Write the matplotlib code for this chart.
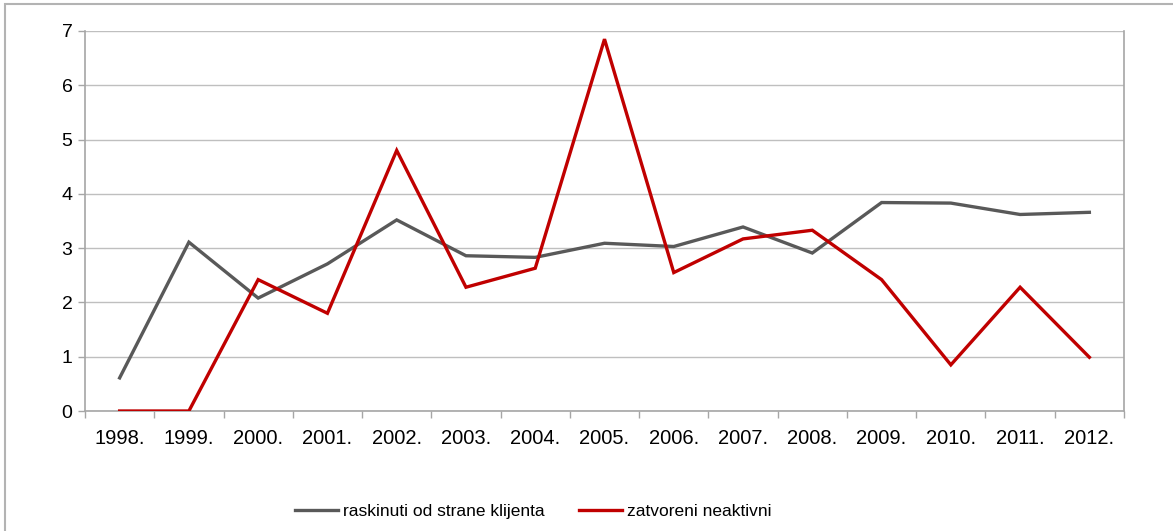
import matplotlib
matplotlib.use("Agg")
import matplotlib.pyplot as plt
from matplotlib.patches import Rectangle

plt.rcParams['font.family'] = ['Liberation Sans', 'DejaVu Sans']

years = ["1998.", "1999.", "2000.", "2001.", "2002.", "2003.", "2004.", "2005.",
         "2006.", "2007.", "2008.", "2009.", "2010.", "2011.", "2012."]
raskinuti = [0.61, 3.11, 2.08, 2.71, 3.52, 2.86, 2.83, 3.09, 3.03, 3.39, 2.91, 3.84, 3.83, 3.62, 3.66]
zatvoreni = [0.0, 0.0, 2.42, 1.80, 4.80, 2.28, 2.63, 6.85, 2.55, 3.17, 3.33, 2.42, 0.85, 2.28, 0.99]
series_names = ["raskinuti od strane klijenta", "zatvoreni neaktivni"]
yticks = [0, 1, 2, 3, 4, 5, 6, 7]

W, H = 1173, 531
fig = plt.figure(figsize=(W / 100, H / 100), dpi=100)
ax = fig.add_axes([85 / W, 1 - 411 / H, (1124 - 85) / W, (411 - 31) / H])

# outer frame
fig.patches.append(Rectangle((5 / W, -0.05), 1.2, 1 - 4 / H + 0.05, transform=fig.transFigure,
                             fill=False, edgecolor='#b3b3b3', linewidth=1.5))

x = list(range(len(years)))
ax.plot(x, raskinuti, color='#595959', linewidth=2.4, solid_joinstyle='miter',
        label=series_names[0], zorder=3)
ax.plot(x, zatvoreni, color='#c00000', linewidth=2.4, solid_joinstyle='miter',
        label=series_names[1], zorder=4)

ax.set_xlim(-0.5, len(years) - 0.5)
ax.set_ylim(0, 7)
ax.set_yticks(yticks)
ax.set_yticklabels([str(v) for v in yticks])
ax.set_xticks(x)
ax.set_xticklabels(years)
ax.set_xticks([i - 0.5 for i in range(len(years) + 1)], minor=True)
ax.tick_params(axis='x', which='major', length=0, pad=13, labelsize=14.5, colors='black')
ax.tick_params(axis='x', which='minor', length=5, color='#a6a6a6', width=1)
ax.tick_params(axis='y', which='major', length=5, color='#a6a6a6', width=1, pad=4,
               labelsize=14, labelcolor='black')

ax.grid(axis='y', color='#bfbfbf', linewidth=1)
ax.set_axisbelow(True)
for s in ['left', 'bottom', 'right']:
    ax.spines[s].set_color('#a6a6a6')
    ax.spines[s].set_linewidth(1.2)
ax.spines['top'].set_visible(False)

fig.legend(loc='center', bbox_to_anchor=(533 / W, 1 - 511 / H), ncol=2, frameon=False,
           fontsize=12.5, handlelength=2.5, handletextpad=0.25, columnspacing=2.0)

fig.savefig('out.png', dpi=100)
